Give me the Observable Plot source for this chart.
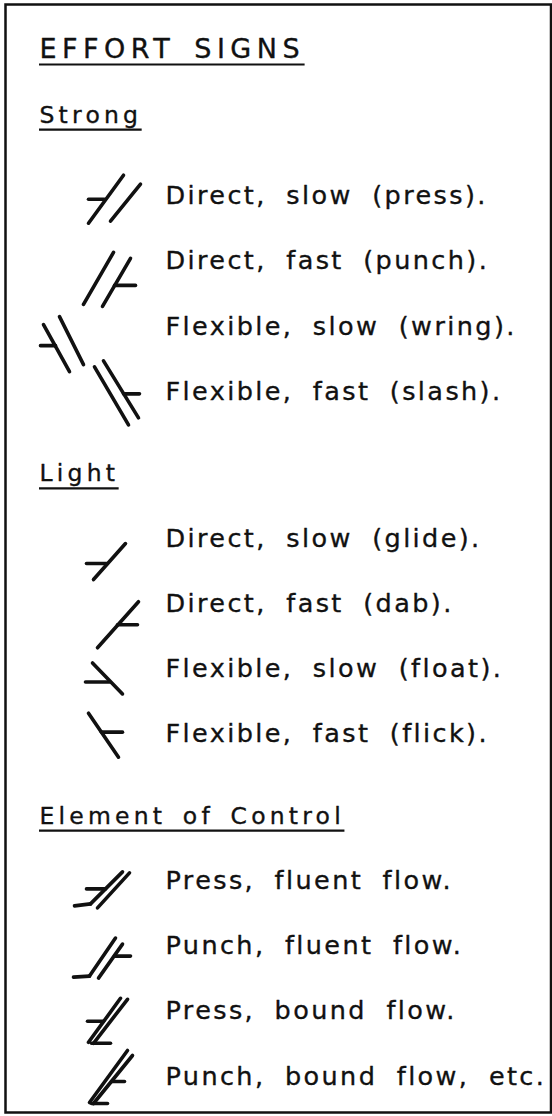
<!DOCTYPE html>
<html><head><meta charset="utf-8">
<script src="https://cdn.jsdelivr.net/npm/d3@7"></script>
<script src="https://cdn.jsdelivr.net/npm/@observablehq/plot@0.6"></script>
<style>
html,body{margin:0;padding:0;background:#fff;}
#chart svg{display:block;}
</style></head>
<body><div id="chart"></div>
<script>
// ---- content ----
const title = ["EFFORT SIGNS"];
const titleLines = [0];
const headings = ["Strong", "Light", "Element of Control"];
const headingLines = [1, 6.5, 11.75];
const labels = [
  "Direct, slow (press).",
  "Direct, fast (punch).",
  "Flexible, slow (wring).",
  "Flexible, fast (slash).",
  "Direct, slow (glide).",
  "Direct, fast (dab).",
  "Flexible, slow (float).",
  "Flexible, fast (flick).",
  "Press, fluent flow.",
  "Punch, fluent flow.",
  "Press, bound flow.",
  "Punch, bound flow, etc."
];
const labelLines = [2.25, 3.25, 4.25, 5.25, 7.5, 8.5, 9.5, 10.5, 12.75, 13.75, 14.75, 15.75];
const signNames = ["press", "punch", "wring", "slash", "glide", "dab", "float", "flick",
  "pressFluent", "punchFluent", "pressBound", "punchBound"];
// sign forms: strokes [x1, dy1, x2, dy2] on the sign grid (dy measured from the row's text baseline)
const signShapes = {
  press:       [[88, 19, 123, -29], [110, 17, 140, -20], [88, -5, 104, -5]],
  punch:       [[83, 35, 113, -17], [102, 37, 130, -11], [114, 16, 135, 16]],
  wring:       [[43, -10, 69, 37], [59, -18, 83, 30], [40, 11, 55, 11]],
  slash:       [[94, -33, 128, 25], [103, -39, 138, 18], [123, -6, 139, -6]],
  glide:       [[93, 33, 125, -3], [86, 17, 106, 17]],
  dab:         [[97, 36, 138, -10], [117, 13, 137, 13]],
  float:       [[92, -14, 122, 17], [85, 5, 109, 5]],
  flick:       [[88, -29, 118, 15], [101, -10, 122, -10]],
  pressFluent: [[90, 15, 122, -17], [97, 19, 129, -16], [86, 0, 105, 0], [74, 17, 90, 15]],
  punchFluent: [[89, 22, 115, -16], [98, 24, 122, -10], [114, 2, 130, 2], [73, 23, 89, 22]],
  pressBound:  [[88, 23, 120, -21], [93, 24, 127, -20], [87, 2, 103, 2], [91, 24, 110, 24]],
  punchBound:  [[89, 18, 127, -34], [93, 19, 132, -29], [111, -3, 124, -3], [91, 19, 107, 19]]
};

// ---- layout ----
const W = 552, H = 1116;
const yTop = 57, yBottom = 1084, lastLine = 15.75;
const linePx = (yBottom - yTop) / lastLine;
const font = "'DejaVu Sans', sans-serif";
const titleStyle = {items: title, size: 27, spacing: 5.5, words: 5};
const headStyle = {items: headings, size: 23.5, spacing: 4.2, words: 5};
const labelStyle = {items: labels, size: 25.5, spacing: 2.4, words: 9};
const textStyles = [titleStyle, headStyle, labelStyle];

const strokes = signNames.flatMap((name, i) =>
  signShapes[name].map(([x1, d1, x2, d2]) => ({
    x1, x2,
    y1: labelLines[i] + d1 / linePx,
    y2: labelLines[i] + d2 / linePx
  }))
);

function styleTexts(svg) {
  d3.select(svg).selectAll("text").each(function () {
    const t = this.textContent;
    const s = textStyles.find(st => st.items.includes(t));
    if (!s) return;
    d3.select(this)
      .style("letter-spacing", s.spacing + "px")
      .style("word-spacing", s.words + "px");
  });
}

// measure the rendered width of each heading so its underline matches it
function measure(s) {
  const svg = d3.select("body").append("svg").attr("width", W).attr("height", 50)
    .style("position", "absolute").style("left", "-2000px");
  const out = s.items.map(t => {
    const el = svg.append("text").attr("font-family", font).attr("font-size", s.size)
      .style("letter-spacing", s.spacing + "px").style("word-spacing", s.words + "px").text(t);
    return el.node().getBBox().width;
  });
  svg.remove();
  return out;
}
const titleX = 39, headX = 39, labelX = 165;
const titleW = measure(titleStyle);
const headW = measure(headStyle);
const underlines = [
  ...title.map((t, i) => ({x1: titleX, x2: titleX + titleW[i], y: titleLines[i]})),
  ...headings.map((t, i) => ({x1: headX, x2: headX + headW[i], y: headingLines[i]}))
];

const textCommon = {textAnchor: "start", lineAnchor: "bottom", fill: "#111", stroke: "#111", strokeWidth: 0.35};

const chart = Plot.plot({
  width: W, height: H,
  margin: 0,
  x: {domain: [0, W], range: [0, W], axis: null},
  y: {domain: [0, lastLine], range: [yTop, yBottom], axis: null},
  style: {background: "#fff", color: "#111", fontFamily: font},
  marks: [
    Plot.frame({stroke: "#111", strokeWidth: 2.5, insetLeft: 5, insetTop: 4, insetRight: 1.5, insetBottom: 4}),
    Plot.ruleY(underlines, {x1: "x1", x2: "x2", y: "y", dy: 7, stroke: "#111", strokeWidth: 2.2}),
    Plot.text(title, {x: titleX, y: (d, i) => titleLines[i], text: d => d, fontSize: titleStyle.size, ...textCommon}),
    Plot.text(headings, {x: headX, y: (d, i) => headingLines[i], text: d => d, fontSize: headStyle.size, ...textCommon}),
    Plot.text(labels, {x: labelX, y: (d, i) => labelLines[i], text: d => d, fontSize: labelStyle.size, ...textCommon}),
    Plot.link(strokes, {x1: "x1", y1: "y1", x2: "x2", y2: "y2", stroke: "#111", strokeWidth: 3.6,
      strokeLinecap: "round"})
  ]
});
styleTexts(chart);
document.getElementById("chart").appendChild(chart);
</script>
</body></html>
